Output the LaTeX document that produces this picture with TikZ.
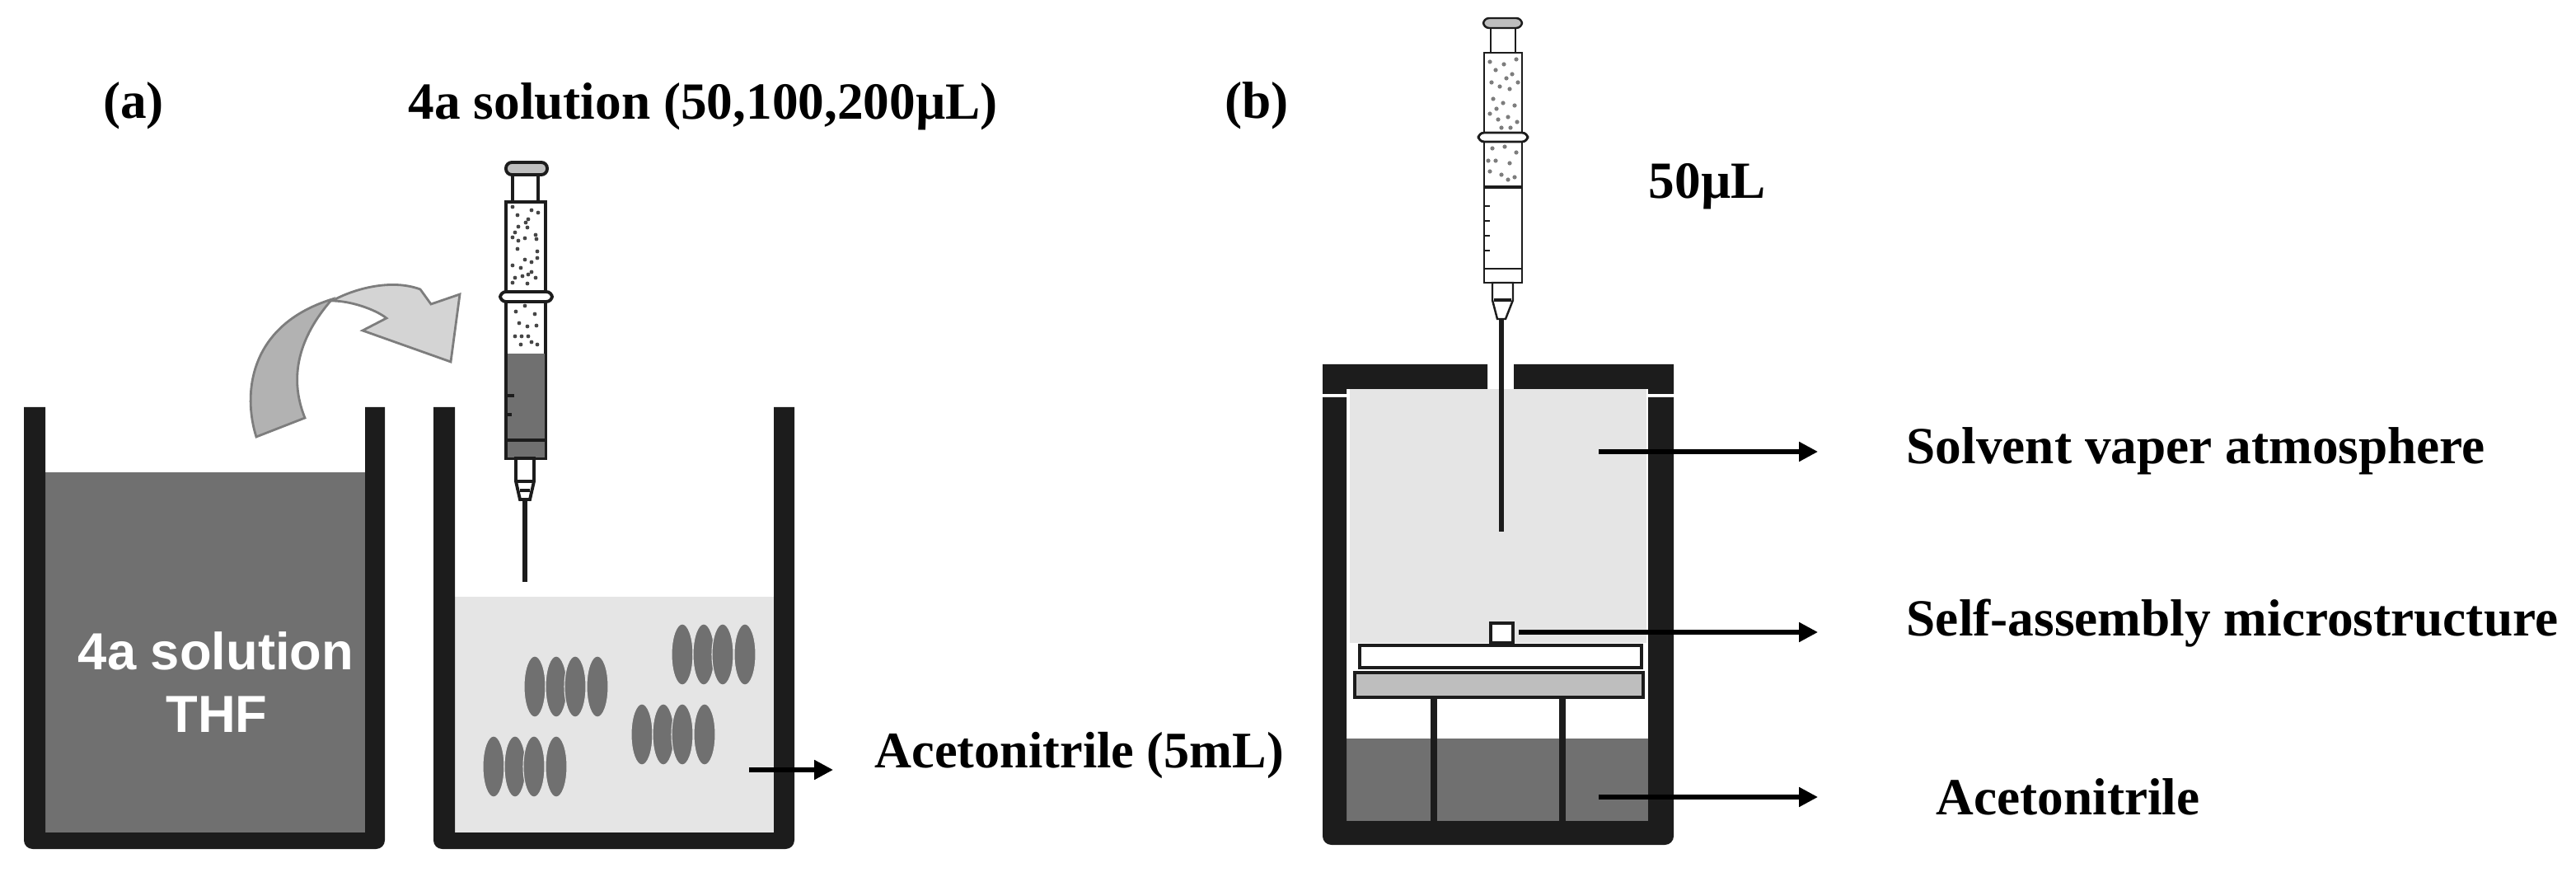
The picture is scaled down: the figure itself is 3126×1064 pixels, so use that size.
\documentclass[tikz,border=0pt]{standalone}
\usepackage{fontspec}
\setmainfont{Liberation Serif}
\newfontfamily\labelsans{Liberation Sans}
\usetikzlibrary{arrows.meta}
\definecolor{wallblack}{RGB}{28, 28, 28}
\definecolor{liquidgray}{RGB}{112, 112, 112}
\definecolor{mistgray}{RGB}{229, 229, 229}
\definecolor{plategray}{RGB}{190, 190, 190}
\definecolor{curvedark}{RGB}{178, 178, 178}
\definecolor{curvelight}{RGB}{212, 212, 212}
\definecolor{edgegray}{RGB}{125, 125, 125}
\definecolor{dotgray}{RGB}{70, 70, 70}

\begin{document}
\begin{tikzpicture}[
        x=0.01cm, y=-0.01cm,
        wall/.style={fill=wallblack, rounded corners=0pt},
        tag/.style={font=\bfseries\fontsize{18}{21}\selectfont, text=black, inner sep=0pt},
        liquidtag/.style={font=\labelsans\bfseries\fontsize{18}{21}\selectfont, text=white, inner sep=0pt},
        pointer/.style={-{Triangle[length=6.5pt, width=6.5pt]}, line width=1.5pt, color=black},
        part/.style={draw=wallblack, line width=1.1pt},
        needle/.style={draw=wallblack, line width=1.5pt},
        blob/.style={fill=liquidgray, draw=mistgray, line width=0.3pt}
    ]
    \useasboundingbox (0,0) rectangle (3126,1064);

    % Left beaker
    \fill[liquidgray] (50,573) rectangle (448,1015);
    \fill[wall] (29,494) [rounded corners=3pt] -- (29,1030) -- (467,1030) [sharp corners] -- (467,494) -- (443,494) -- (443,1010) -- (55,1010) -- (55,494) -- cycle;

    % Middle beaker
    \fill[mistgray] (548,724) rectangle (942,1015);
    \fill[wall] (526,494) [rounded corners=3pt] -- (526,1030) -- (964,1030) [sharp corners] -- (964,494) -- (939,494) -- (939,1010) -- (552,1010) -- (552,494) -- cycle;

    % Blobs
    \foreach \bx/\by in {649/833, 828/794, 779/891, 599/930} {
        \foreach \off in {0, 26, 49, 76} {
            \path[blob] (\bx+\off,\by) ellipse [x radius=13, y radius=37];
        }
    }

    % Curved arrow
    \draw[draw=edgegray, line width=0.8pt, fill=curvelight] (403,365) .. controls (430,350) and (475,338) .. (510,351) -- (523,369) -- (558,357) -- (547,439) -- (440,401) -- (469,386) .. controls (455,375) and (425,365) .. cycle;
    \draw[draw=edgegray, line width=0.8pt, fill=curvedark] (311,530) .. controls (295,480) and (300,395) .. (403,363) .. controls (375,395) and (345,445) .. (370,507) -- cycle;

    % Left syringe
    \draw[part, fill=white] (614,245) rectangle (662,556);
    \fill[liquidgray] (616,429) rectangle (661,555);
    \draw[part] (614,534) -- (662,534);
    \draw[part] (615,480) -- (624,480);
    \draw[part] (615,503) -- (621,503);
    \draw[part] (622,245) -- (622,213);
    \draw[part] (653,245) -- (653,213);
    \draw[part, fill=plategray, rounded corners=2pt] (614,197) rectangle (664,212);
    \draw[part, fill=white, rounded corners=2pt] (607,354) rectangle (670,366);
    \draw[part, fill=white] (626,556) -- (626,584) -- (631,606) -- (643,606) -- (648,584) -- (648,556) -- cycle;
    \draw[part] (626,584) -- (648,584);
    \draw[part] (631,595) -- (643,595);
    \draw[needle] (637,606) -- (637,706);
    \foreach \dx/\dy in {622/251,628/261,645/255,653/258,629/275,625/282,641/266,638/270,640/276,622/288,629/292,637/289,650/285,651/290,628/302,652/305,637/315,645/318,652/313,622/322,632/325,645/330,625/337,634/335,641/333,650/337,640/344,622/343,626/378,649/381,630/392,640/396,651/395,625/408,633/408,641/408,645/415,632/418,652/418,637/371} {
        \fill[dotgray] (\dx,\dy) circle (2.4);
    }

    % Right syringe
    \draw[part, line width=0.7pt, fill=white] (1801,64) rectangle (1847,343);
    \draw[part, line width=0.7pt] (1801,326) -- (1847,326);
    \draw[part, line width=1pt] (1801,227) -- (1847,227);
    \foreach \ty in {250,268,286,304} {
        \draw[part, line width=0.6pt] (1801,\ty) -- (1808,\ty);
    }
    \draw[part, line width=0.7pt] (1809,64) -- (1809,35);
    \draw[part, line width=0.7pt] (1839,64) -- (1839,35);
    \draw[part, line width=0.7pt, fill=plategray, rounded corners=2pt] (1800,22) rectangle (1847,34);
    \draw[part, line width=0.8pt, fill=white, rounded corners=2pt] (1794,161) rectangle (1854,172);
    \draw[part, line width=0.7pt, fill=white] (1811,343) -- (1811,364) -- (1817,387) -- (1827,387) -- (1836,364) -- (1836,343) -- cycle;
    \draw[part, line width=0.9pt] (1813,364) -- (1834,364);
    \foreach \dx/\dy in {1808/75,1815/85,1825/78,1835/90,1840/72,1810/100,1820/105,1832/108,1842/100,1812/120,1824/125,1838/128,1808/138,1818/145,1830/142,1841/148,1822/155,1811/180,1826/178,1840/185,1815/195,1832/198,1808/208,1822/212,1838/215,1828/95,1816/132,1833/155,1806/195,1830/218} {
        \fill[edgegray] (\dx,\dy) circle (2.6);
    }

    % Chamber
    \fill[mistgray] (1638,472) rectangle (1998,780);
    \fill[liquidgray] (1630,896) rectangle (2003,1000);
    \fill[wall] (1605,482) [rounded corners=3pt] -- (1605,1025) -- (2031,1025) [sharp corners] -- (2031,482) -- (2000,482) -- (2000,996) -- (1634,996) -- (1634,482) -- cycle;
    \fill[wall] (1605,442) -- (1805,442) -- (1805,472) -- (1634,472) -- (1634,478) -- (1605,478) -- cycle;
    \fill[wall] (1837,442) -- (2031,442) -- (2031,478) -- (2000,478) -- (2000,472) -- (1837,472) -- cycle;
    \fill[wallblack] (1736,848) rectangle (1744,996);
    \fill[wallblack] (1892,848) rectangle (1900,996);
    \draw[part, line width=1.4pt, fill=white] (1650,783) rectangle (1992,810);
    \draw[part, line width=1.4pt, fill=plategray] (1644,816) rectangle (1994,846);
    \draw[part, line width=0.9pt, fill=white] (1809,756) rectangle (1836,780);
    \draw[needle, line width=1.8pt] (1822,387) -- (1822,645);

    % Labels
    \node[tag] (lab_a) at (162,128) {(a)};
    \node[tag] (lab_b) at (1525,128) {(b)};
    \node[tag, anchor=west] (lab_sol) at (495,129) {4a solution (50,100,200µL)};
    \node[tag, anchor=west] (lab_vol) at (2000,226) {50µL};
    \node[tag, anchor=west, font=\bfseries\fontsize{17.7}{21}\selectfont] (lab_acn5) at (1061,917) {Acetonitrile (5mL)};
    \node[tag, anchor=west] (lab_vap) at (2313,547) {Solvent vaper atmosphere};
    \node[tag, anchor=west] (lab_self) at (2313,756) {Self-assembly microstructure};
    \node[tag, anchor=west] (lab_acn) at (2349,967) {Acetonitrile};
    \node[liquidtag] (lab_thf4a) at (262,790) {4a solution};
    \node[liquidtag] (lab_thf) at (263,867) {THF};

    % Arrows
    \coordinate (acn5_from) at (909,934);
    \coordinate (acn5_to) at (1011,934);
    \coordinate (vap_from) at (1940,548);
    \coordinate (vap_to) at (2206,548);
    \coordinate (self_from) at (1843,767);
    \coordinate (self_to) at (2206,767);
    \coordinate (acn_from) at (1940,967);
    \coordinate (acn_to) at (2206,967);
    \draw[pointer] (acn5_from) -- (acn5_to);
    \draw[pointer] (vap_from) -- (vap_to);
    \draw[pointer] (self_from) -- (self_to);
    \draw[pointer] (acn_from) -- (acn_to);

\end{tikzpicture}
\end{document}
